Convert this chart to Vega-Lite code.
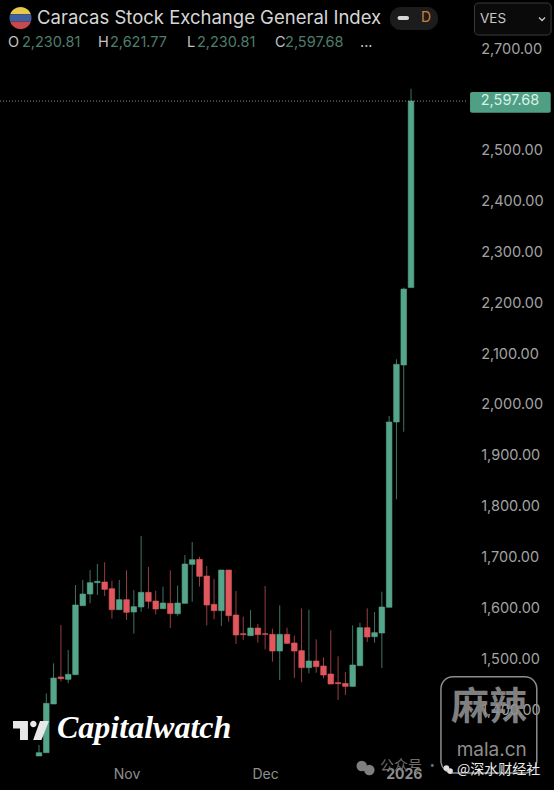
{"$schema":"https://vega.github.io/schema/vega-lite/v6.json","width":554,"height":790,"padding":0,"autosize":{"type":"none"},"background":"#000000","config":{"view":{"stroke":null},"font":"Inter"},
"encoding":{"x":{"field":"session","type":"quantitative","scale":{"domain":[-5.347,70.6],"nice":false,"zero":false,"padding":0},"axis":{"title":null,"orient":"bottom","offset":-16,"values":[12,31,50],"labelExpr":"datum.value==12?'Nov':datum.value==31?'Dec':'2026'","labelFontWeight":{"condition":{"test":"datum.value==50","value":"bold"},"value":"normal"},"labelColor":"#8f8f8f","labelFontSize":14,"labelBaseline":"middle","labelPadding":0,"ticks":false,"domain":false,"grid":false,"labelFlush":false,"labelOverlap":false,"labelBound":false}},
"y":{"field":"price","type":"quantitative","scale":{"domain":[1242.8,2796.4],"nice":false,"zero":false},"axis":{"title":null,"orient":"right","offset":-73.3,"values":[1400,1500,1600,1700,1800,1900,2000,2100,2200,2300,2400,2500,2700],"format":",.2f","labelColor":"#a3a3a3","labelFontSize":14.5,"labelFont":"Inter","labelAlign":"left","labelBaseline":"middle","labelPadding":0,"ticks":false,"domain":false,"grid":false,"labelFlush":false,"labelOverlap":false,"labelBound":false}}},
"layer":[
{"data":{"values":[{"session":-5.347,"end":58.8,"price":2597.68}]},"mark":{"type":"rule","color":"#8a8a8a","strokeWidth":1,"strokeDash":[1,2]},"encoding":{"x2":{"field":"end"}}},
{"data":{"name":"candles","values":[
{"session":0,"open":1309.7,"high":1331.3,"low":1309.7,"close":1316.2},
{"session":1,"open":1316.2,"high":1432.9,"low":1316.2,"close":1413.2},
{"session":2,"open":1411.9,"high":1491.9,"low":1411.9,"close":1463.0},
{"session":3,"open":1465.0,"high":1567.3,"low":1456.5,"close":1461.7},
{"session":4,"open":1460.4,"high":1518.1,"low":1452.6,"close":1470.3},
{"session":5,"open":1469.6,"high":1645.9,"low":1469.6,"close":1606.6},
{"session":6,"open":1605.3,"high":1655.8,"low":1604.6,"close":1628.2},
{"session":7,"open":1628.2,"high":1675.4,"low":1609.9,"close":1650.5},
{"session":8,"open":1650.5,"high":1687.2,"low":1626.3,"close":1653.1},
{"session":9,"open":1651.8,"high":1690.5,"low":1624.3,"close":1637.4},
{"session":10,"open":1638.7,"high":1654.5,"low":1579.7,"close":1597.4},
{"session":11,"open":1597.4,"high":1655.8,"low":1596.8,"close":1617.1},
{"session":12,"open":1617.1,"high":1674.8,"low":1577.1,"close":1592.2},
{"session":13,"open":1592.8,"high":1636.1,"low":1550.2,"close":1603.3},
{"session":14,"open":1602.7,"high":1742.3,"low":1593.5,"close":1631.5},
{"session":15,"open":1631.5,"high":1681.3,"low":1599.4,"close":1613.8},
{"session":16,"open":1614.5,"high":1634.8,"low":1588.2,"close":1598.7},
{"session":17,"open":1599.4,"high":1642.7,"low":1599.4,"close":1610.5},
{"session":18,"open":1609.9,"high":1674.8,"low":1561.4,"close":1589.5},
{"session":19,"open":1589.5,"high":1644.6,"low":1585.6,"close":1610.5},
{"session":20,"open":1609.9,"high":1704.9,"low":1609.9,"close":1687.2},
{"session":21,"open":1686.6,"high":1730.5,"low":1613.2,"close":1695.7},
{"session":22,"open":1696.4,"high":1701.6,"low":1642.7,"close":1663.0},
{"session":23,"open":1663.6,"high":1683.3,"low":1566.6,"close":1606.6},
{"session":24,"open":1607.9,"high":1657.7,"low":1578.4,"close":1595.5},
{"session":25,"open":1595.5,"high":1675.4,"low":1565.3,"close":1675.4},
{"session":26,"open":1675.4,"high":1675.4,"low":1573.8,"close":1585.6},
{"session":27,"open":1586.9,"high":1634.1,"low":1529.9,"close":1547.6},
{"session":28,"open":1550.2,"high":1583.7,"low":1537.8,"close":1548.3},
{"session":29,"open":1546.3,"high":1596.8,"low":1546.3,"close":1561.4},
{"session":30,"open":1561.4,"high":1569.2,"low":1532.5,"close":1548.3},
{"session":31,"open":1550.2,"high":1644.0,"low":1519.4,"close":1548.9},
{"session":32,"open":1548.9,"high":1560.0,"low":1495.2,"close":1516.1},
{"session":33,"open":1516.1,"high":1606.0,"low":1459.1,"close":1548.9},
{"session":34,"open":1548.9,"high":1562.0,"low":1529.9,"close":1531.2},
{"session":35,"open":1531.9,"high":1546.3,"low":1463.0,"close":1516.1},
{"session":36,"open":1516.8,"high":1600.0,"low":1454.5,"close":1483.4},
{"session":37,"open":1483.4,"high":1597.4,"low":1472.2,"close":1496.5},
{"session":38,"open":1496.5,"high":1539.1,"low":1473.5,"close":1485.3},
{"session":39,"open":1486.6,"high":1503.7,"low":1462.4,"close":1468.9},
{"session":40,"open":1470.9,"high":1556.8,"low":1451.2,"close":1451.2},
{"session":41,"open":1453.9,"high":1505.7,"low":1419.8,"close":1451.9},
{"session":42,"open":1452.5,"high":1474.8,"low":1429.6,"close":1446.6},
{"session":43,"open":1446.6,"high":1566.6,"low":1446.0,"close":1488.6},
{"session":44,"open":1487.3,"high":1571.8,"low":1487.3,"close":1562.0},
{"session":45,"open":1562.0,"high":1600.0,"low":1533.8,"close":1543.7},
{"session":46,"open":1544.3,"high":1592.8,"low":1532.5,"close":1552.2},
{"session":47,"open":1551.5,"high":1632.8,"low":1482.7,"close":1602.7},
{"session":48,"open":1602.1,"high":1978.3,"low":1602.1,"close":1966.5},
{"session":49,"open":1966.5,"high":2089.8,"low":1814.5,"close":2079.9},
{"session":50,"open":2078.6,"high":2230.81,"low":1947.4,"close":2228.0},
{"session":51,"open":2230.81,"high":2621.77,"low":2230.81,"close":2597.68}
]},"mark":{"type":"rule","strokeWidth":1,"opacity":0.7},"encoding":{"y":{"field":"low","type":"quantitative"},"y2":{"field":"high"},"color":{"condition":{"test":"datum.close>=datum.open","value":"#5da48c"},"value":"#d9585e"}}},
{"data":{"name":"candles"},"mark":{"type":"bar","size":5.6,"orient":"vertical","strokeWidth":0.6},"encoding":{"y":{"field":"open","type":"quantitative"},"y2":{"field":"close"},"color":{"condition":{"test":"datum.close>=datum.open","value":"#55a58a"},"value":"#e0575d"},"stroke":{"condition":{"test":"datum.close>=datum.open","value":"#55a58a"},"value":"#e0575d"}}},
{"data":{"values":[{"left":59.09,"right":70.15,"top":2615.4,"bottom":2574.7}]},"mark":{"type":"rect","color":"#4f9f85","cornerRadius":2},"encoding":{"x":{"field":"left","type":"quantitative"},"x2":{"field":"right"},"y":{"field":"top","type":"quantitative"},"y2":{"field":"bottom"}}},
{"data":{"values":[{"session":60.56,"price":2597.68,"label":"2,597.68"}]},"mark":{"type":"text","align":"left","baseline":"middle","fontSize":14.5,"color":"#d8f0e6"},"encoding":{"text":{"field":"label"}}},
{"data":{"values":[{"session":-0.27,"price":2761,"label":"Caracas Stock Exchange General Index"}]},"mark":{"type":"text","align":"left","baseline":"middle","fontSize":18.5,"color":"#d6d6d6"},"encoding":{"text":{"field":"label"}}},
{"data":{"values":[{"session":-4.25,"price":2711.8,"label":"O"},{"session":8.09,"price":2711.8,"label":"H"},{"session":20.29,"price":2711.8,"label":"L"},{"session":32.36,"price":2711.8,"label":"C"},{"session":44.0,"price":2711.8,"label":"..."}]},"mark":{"type":"text","align":"left","baseline":"middle","fontSize":14.5,"color":"#c4c4c4"},"encoding":{"text":{"field":"label"}}},
{"data":{"values":[{"session":-2.33,"price":2711.8,"label":"2,230.81"},{"session":9.73,"price":2711.8,"label":"2,621.77"},{"session":21.66,"price":2711.8,"label":"2,230.81"},{"session":33.73,"price":2711.8,"label":"2,597.68"}]},"mark":{"type":"text","align":"left","baseline":"middle","fontSize":14.5,"color":"#4f7d6d"},"encoding":{"text":{"field":"label"}}},
{"data":{"values":[{"session":-2.53,"price":2761}]},"mark":{"type":"point","filled":true,"opacity":1,"size":484,"color":"#e8c84a","shape":"M-0.943,-0.33A1,1,0,0,1,0.943,-0.33Z"}},
{"data":{"values":[{"session":-2.53,"price":2761}]},"mark":{"type":"point","filled":true,"opacity":1,"size":484,"color":"#3f5f9f","shape":"M-0.943,-0.33L0.943,-0.33A1,1,0,0,1,0.943,0.33L-0.943,0.33A1,1,0,0,1,-0.943,-0.33Z"}},
{"data":{"values":[{"session":-2.53,"price":2761}]},"mark":{"type":"point","filled":true,"opacity":1,"size":484,"color":"#c9484e","shape":"M-0.943,0.33L0.943,0.33A1,1,0,0,1,-0.943,0.33Z"}},
{"data":{"values":[{"left":48.1,"right":54.7,"top":2782.6,"bottom":2737.4}]},"mark":{"type":"rect","color":"#1c1c1c","cornerRadius":11},"encoding":{"x":{"field":"left","type":"quantitative"},"x2":{"field":"right"},"y":{"field":"top","type":"quantitative"},"y2":{"field":"bottom"}}},
{"data":{"values":[{"left":49.15,"right":50.73,"top":2764.9,"bottom":2757}]},"mark":{"type":"rect","color":"#d6d6d6","cornerRadius":2},"encoding":{"x":{"field":"left","type":"quantitative"},"x2":{"field":"right"},"y":{"field":"top","type":"quantitative"},"y2":{"field":"bottom"}}},
{"data":{"values":[{"session":53.06,"price":2761,"label":"D"}]},"mark":{"type":"text","align":"center","baseline":"middle","fontSize":14,"color":"#c77f3e"},"encoding":{"text":{"field":"label"}}},
{"data":{"values":[{"left":59.7,"right":70.2,"top":2790.5,"bottom":2727.5}]},"mark":{"type":"rect","fill":"#0a0a0a","stroke":"#3a3a3a","strokeWidth":1,"cornerRadius":4},"encoding":{"x":{"field":"left","type":"quantitative"},"x2":{"field":"right"},"y":{"field":"top","type":"quantitative"},"y2":{"field":"bottom"}}},
{"data":{"values":[{"session":60.46,"price":2759,"label":"VES"}]},"mark":{"type":"text","align":"left","baseline":"middle","fontSize":13.5,"color":"#c8c8c8"},"encoding":{"text":{"field":"label"}}},
{"data":{"values":[{"session":68.96,"price":2759}]},"mark":{"type":"point","filled":false,"opacity":1,"size":36,"stroke":"#c8c8c8","strokeWidth":1.3,"shape":"M-1,-0.5L0,0.5L1,-0.5"}},
{"data":{"values":[{"session":-1.097,"price":1359.8}]},"mark":{"type":"point","filled":true,"opacity":1,"size":1296,"color":"#e8e8e8","shape":"M-1,-0.53L-0.17,-0.53L-0.17,0.53L-0.61,0.53L-0.61,-0.11L-1,-0.11ZM-0.05,-0.36A0.18,0.18,0,1,1,0.31,-0.36A0.18,0.18,0,1,1,-0.05,-0.36ZM0.5,-0.53L1,-0.53L0.58,0.53L0.12,0.53Z"}},
{"data":{"values":[{"session":2.47,"price":1364.7,"label":"Capitalwatch"}]},"mark":{"type":"text","align":"left","baseline":"middle","font":"Liberation Serif","fontSize":32,"fontStyle":"italic","fontWeight":"bold","color":"#ffffff"},"encoding":{"text":{"field":"label"}}},
{"data":{"values":[{"left":55.1,"right":68.24,"top":1465.6,"bottom":1276.2}]},"mark":{"type":"rect","fill":"#000000","fillOpacity":0,"stroke":"#8c8c8c","strokeWidth":1.5,"cornerRadius":12},"encoding":{"x":{"field":"left","type":"quantitative"},"x2":{"field":"right"},"y":{"field":"top","type":"quantitative"},"y2":{"field":"bottom"}}},
{"data":{"values":[{"session":61.7,"price":1404,"label":"麻辣"}]},"mark":{"type":"text","align":"center","baseline":"middle","font":"Noto Sans CJK SC","fontSize":38,"fontWeight":"bold","color":"#8e8e8e","opacity":0.9},"encoding":{"text":{"field":"label"}}},
{"data":{"values":[{"session":62.06,"price":1321,"label":"mala.cn"}]},"mark":{"type":"text","align":"center","baseline":"middle","fontSize":19,"color":"#8e8e8e"},"encoding":{"text":{"field":"label"}}},
{"data":{"values":[{"session":44.24,"price":1290},{"session":45.28,"price":1282}]},"mark":{"type":"circle","size":110,"color":"#7f7f7f","opacity":1}},
{"data":{"values":[{"session":46.75,"price":1290,"label":"公众号 ·"}]},"mark":{"type":"text","align":"left","baseline":"middle","font":"Noto Sans CJK SC","fontSize":14,"color":"#6e6e6e"},"encoding":{"text":{"field":"label"}}},
{"data":{"values":[{"session":55.85,"price":1286},{"session":56.35,"price":1280}]},"mark":{"type":"circle","size":32,"color":"#e0e0e0","opacity":1}},
{"data":{"values":[{"session":57.3,"price":1282,"label":"@深水财经社"}]},"mark":{"type":"text","align":"left","baseline":"middle","font":"Noto Sans CJK SC","fontSize":14,"color":"#ececec"},"encoding":{"text":{"field":"label"}}}
]}
